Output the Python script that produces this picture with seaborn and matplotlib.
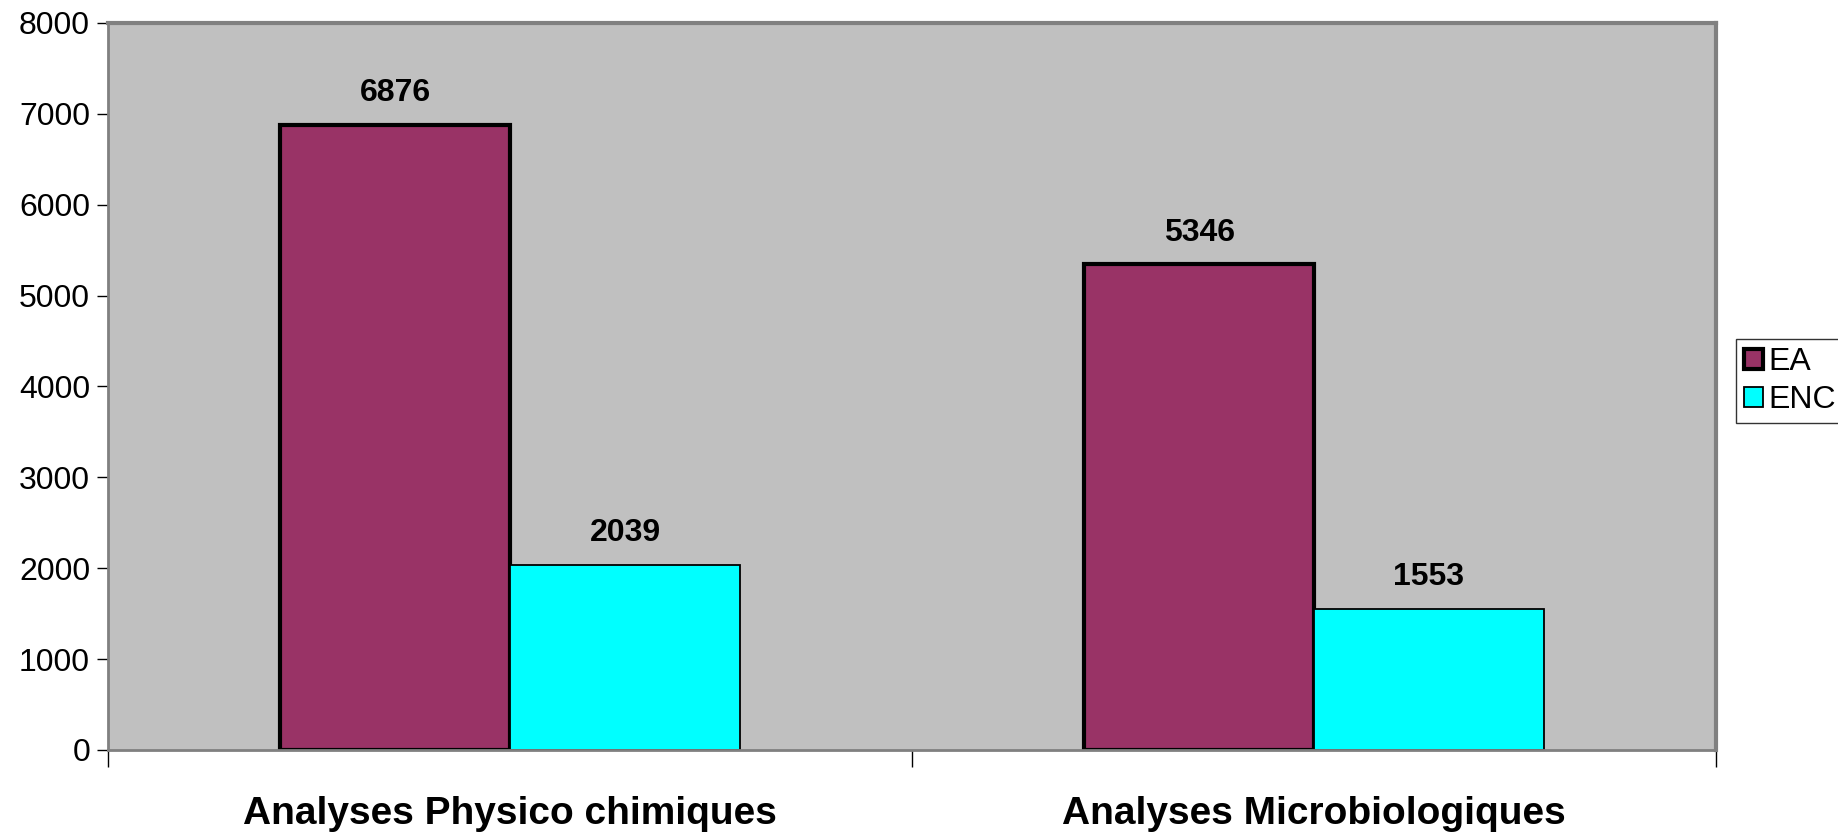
import pandas as pd
import matplotlib.pyplot as plt
import seaborn as sns

# Chart data
categories = ["Analyses Physico chimiques", "Analyses Microbiologiques"]
series = ["EA", "ENC"]
ea_values = [6876, 5346]
enc_values = [2039, 1553]
y_ticks = [0, 1000, 2000, 3000, 4000, 5000, 6000, 7000, 8000]

df = pd.DataFrame({
    "categorie": categories * 2,
    "serie": ["EA"] * len(categories) + ["ENC"] * len(categories),
    "valeur": ea_values + enc_values,
})

sns.set_style("white")
plt.rcParams['font.family'] = ['Liberation Sans', 'DejaVu Sans']
plt.rcParams['text.color'] = 'black'
plt.rcParams['xtick.color'] = 'black'
plt.rcParams['ytick.color'] = 'black'

fig = plt.figure(figsize=(18.38, 8.36), dpi=100)
ax = fig.add_axes([0.0588, 0.1029, 0.8748, 0.8696])

palette = {"EA": "#993366", "ENC": "#00FFFF"}
sns.barplot(data=df, x="categorie", y="valeur", hue="serie", order=categories,
            hue_order=series, palette=palette, width=0.572, saturation=1,
            edgecolor="black", ax=ax, legend=True)

# thicker outline on EA bars like the original
for cont, lw in zip(ax.containers, [3, 1.3]):
    for bar in cont:
        bar.set_linewidth(lw)
    ax.bar_label(cont, fmt="%d", padding=12, fontsize=23, fontweight="bold",
                 color="black")

ax.set_facecolor("#C0C0C0")
ax.set_ylim(0, 8000)
ax.set_xlim(-0.5, 1.5)
ax.set_yticks(y_ticks)
ax.tick_params(axis="y", labelsize=23, length=8, width=1, color="black",
               labelcolor="black", direction="out", left=True, pad=5)
ax.tick_params(axis="x", which="major", length=0, labelsize=28,
               labelcolor="black", pad=33)
ax.set_xticks([-0.5, 0.5, 1.5], minor=True)
ax.tick_params(axis="x", which="minor", length=12, width=1, color="black",
               direction="out", bottom=True)
for lbl in ax.get_xticklabels():
    lbl.set_fontweight("bold")
ax.set_xlabel("")
ax.set_ylabel("")

for side in ["top", "right", "left", "bottom"]:
    ax.spines[side].set_visible(True)
    ax.spines[side].set_color("#808080")
ax.spines["top"].set_linewidth(3)
ax.spines["right"].set_linewidth(3)
ax.spines["left"].set_linewidth(2)
ax.spines["bottom"].set_linewidth(2)

leg = ax.legend(loc="center left", bbox_to_anchor=(1736 / 1838, 1 - 381 / 836),
                bbox_transform=fig.transFigure, frameon=True, fancybox=False,
                fontsize=23, handlelength=0.6, handleheight=0.6,
                handletextpad=0.15, borderpad=0.25, labelspacing=0.25,
                borderaxespad=0)
leg.get_frame().set_edgecolor("black")
leg.get_frame().set_linewidth(1)
for h, lw in zip(leg.legend_handles, [3, 1.3]):
    h.set_linewidth(lw)
    h.set_edgecolor("black")

fig.savefig("out.png", dpi=100)
